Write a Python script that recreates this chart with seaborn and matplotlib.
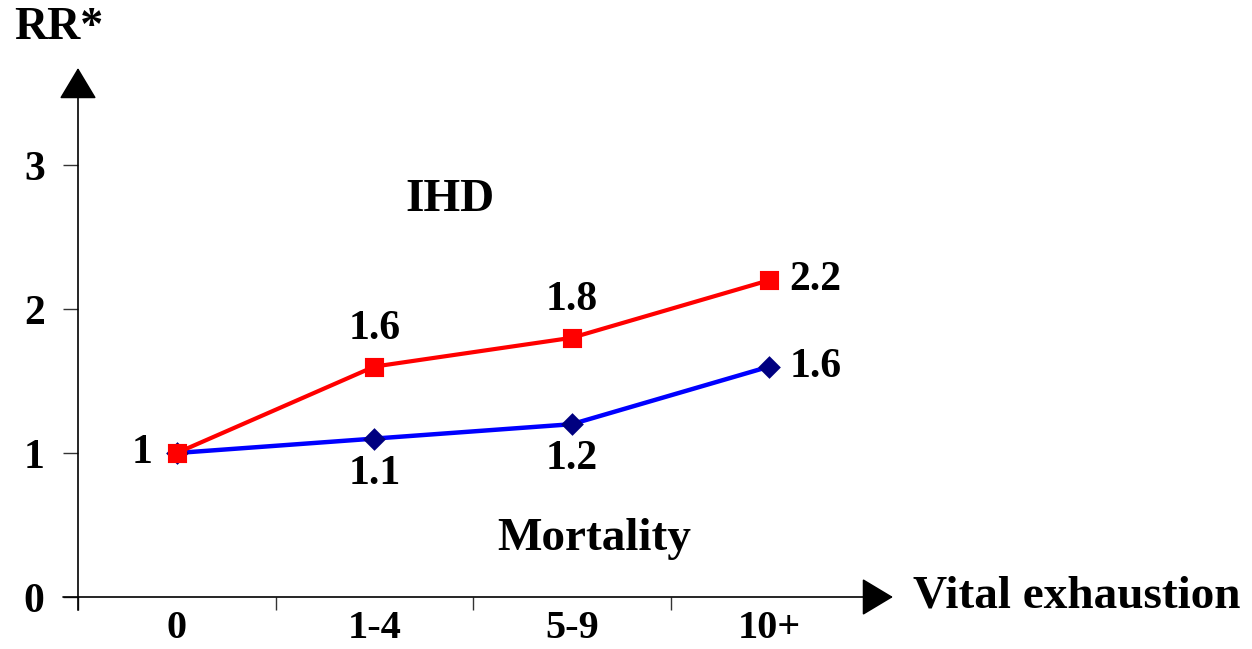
import pandas as pd
import matplotlib
matplotlib.use("Agg")
import matplotlib.pyplot as plt
import seaborn as sns

# =====================================================================
# DATA
# =====================================================================
categories = ["0", "1-4", "5-9", "10+"]
ihd_rr = [1.0, 1.6, 1.8, 2.2]
mortality_rr = [1.0, 1.1, 1.2, 1.6]
y_ticks = [0, 1, 2, 3]

df = pd.DataFrame({
    "Vital exhaustion": categories * 2,
    "RR": ihd_rr + mortality_rr,
    "Outcome": ["IHD"] * len(categories) + ["Mortality"] * len(categories),
})

# =====================================================================
# PLOTTING
# =====================================================================
sns.set_theme(style="white", rc={"text.color": "black", "xtick.color": "black",
                                 "ytick.color": "black", "axes.labelcolor": "black"})
plt.rcParams["font.family"] = ["Liberation Serif", "DejaVu Serif"]
plt.rcParams["font.weight"] = "bold"

fig = plt.figure(figsize=(12.52, 6.49), dpi=100)
ax = fig.add_axes([78 / 1252, 52 / 649, 790 / 1252, 504 / 649])

# red IHD line with squares
sns.pointplot(
    data=df[df["Outcome"] == "IHD"], x="Vital exhaustion", y="RR",
    order=categories, color="#FF0000", markers="s", markersize=11,
    linewidth=3, errorbar=None, ax=ax, zorder=3,
)
# blue mortality line with diamonds
sns.pointplot(
    data=df[df["Outcome"] == "Mortality"], x="Vital exhaustion", y="RR",
    order=categories, color="#0000FF", markers="D", markersize=9,
    linewidth=3.2, errorbar=None, ax=ax, zorder=2,
)
for ln in ax.lines:
    if ln.get_color() in ("#0000FF", (0.0, 0.0, 1.0), (0.0, 0.0, 1.0, 1.0)):
        ln.set_markerfacecolor("#000080")
        ln.set_markeredgecolor("#000080")

ax.set_xlim(-0.5, 3.5)
ax.set_ylim(0, 3.5)

# axes drawn as arrows
for s in ax.spines.values():
    s.set_visible(False)
arrow = dict(arrowstyle="-|>,head_length=1.0,head_width=0.6", mutation_scale=20,
             color="black", lw=1.2, shrinkA=0, shrinkB=0)
ax.annotate("", xy=(1.0316, 0), xytext=(-0.019, 0), xycoords="axes fraction",
            arrowprops=arrow, annotation_clip=False)
ax.annotate("", xy=(0, 1.0496), xytext=(0, -0.026), xycoords="axes fraction",
            arrowprops=arrow, annotation_clip=False)

# ticks
ax.set_yticks(y_ticks)
ax.set_yticklabels([str(t) for t in y_ticks])
ax.tick_params(axis="y", direction="out", length=11, width=1, color="#333333",
               pad=13, labelsize=30, left=True, labelcolor="black")
ax.set_xticks([-0.5, 0.5, 1.5, 2.5])
ax.set_xticklabels([])
ax.set_xticks(range(len(categories)), minor=True)
ax.set_xticklabels(categories, minor=True)
ax.tick_params(axis="x", which="major", direction="out", length=9.5, width=1,
               color="#333333", bottom=True)
ax.tick_params(axis="x", which="minor", length=0, pad=9, labelsize=29,
               labelcolor="black")
for lab in ax.get_xticklabels(minor=True) + ax.get_yticklabels():
    lab.set_fontweight("bold")

ax.set_xlabel("")
ax.set_ylabel("")
ax.grid(False)

# value labels
lab_kw = dict(textcoords="offset pixels", fontsize=30, fontweight="bold",
              va="center", color="black", annotation_clip=False)
for i, v in enumerate(ihd_rr):
    if i == 0:
        ax.annotate("1", (i, v), xytext=(-24, 0), ha="right", **lab_kw)
    elif i == len(ihd_rr) - 1:
        ax.annotate(f"{v:.1f}", (i, v), xytext=(20, 0), ha="left", **lab_kw)
    else:
        ax.annotate(f"{v:.1f}", (i, v), xytext=(0, 38), ha="center", **lab_kw)
for i, v in enumerate(mortality_rr):
    if i == 0:
        continue
    elif i == len(mortality_rr) - 1:
        ax.annotate(f"{v:.1f}", (i, v), xytext=(20, 0), ha="left", **lab_kw)
    else:
        ax.annotate(f"{v:.1f}", (i, v), xytext=(0, -35), ha="center", **lab_kw)

# series and axis titles
ax.text(1.382, 2.76, "IHD", fontsize=34, fontweight="bold", ha="center", va="center")
ax.text(2.116, 0.40, "Mortality", fontsize=34, fontweight="bold", ha="center", va="center")
ax.text(1.057, 0, "Vital exhaustion", transform=ax.get_yaxis_transform(),
        fontsize=34, fontweight="bold", ha="left", va="center")
ax.text(-0.024, 1.129, "RR*", transform=ax.transAxes,
        fontsize=33, fontweight="bold", ha="center", va="center")

plt.savefig("out.png", dpi=100)
